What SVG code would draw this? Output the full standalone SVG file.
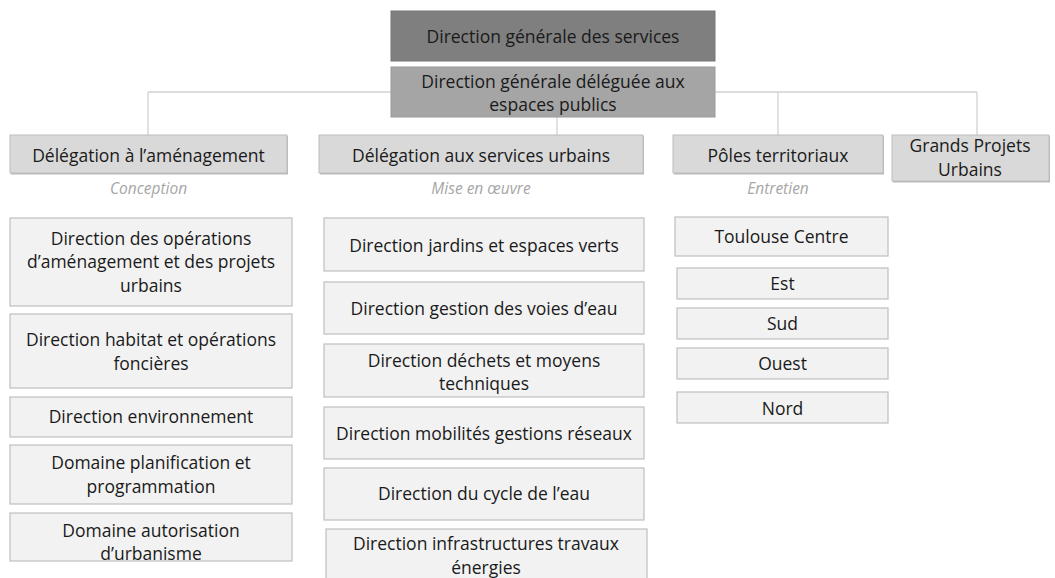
<svg xmlns="http://www.w3.org/2000/svg" width="1055" height="578" viewBox="0 0 1055 578">
<defs>
<style>
text{font-family:"Open Sans","Liberation Sans",sans-serif;font-size:17.5px;fill:#1a1a1a;text-anchor:middle}
.lbl{font-style:italic;fill:#a6a6a6;font-size:15.5px}
.top{fill:#7f7f7f;stroke:#767676}
.dga{fill:#a5a5a5;stroke:#9a9a9a}
.del{fill:#d9d9d9;stroke:#bdbdbd}
.sub{fill:#f2f2f2;stroke:#bfbfbf;stroke-width:1.2}
.sh{fill:#b8b8b8}
#connectors line{stroke:#d2d2d2;stroke-width:1.3}
</style>
</defs>
<rect width="1055" height="578" fill="#ffffff"/>
<g id="connectors">
<line x1="148" y1="92" x2="391" y2="92"/>
<line x1="148" y1="92" x2="148" y2="135"/>
<line x1="715" y1="92" x2="977" y2="92"/>
<line x1="778" y1="92" x2="778" y2="135"/>
<line x1="977" y1="92" x2="977" y2="135"/>
<line x1="557" y1="117" x2="557" y2="135"/>
</g>
<g id="dgs"><rect class="top" x="391" y="11" width="324" height="50"/><text x="553" y="42.5">Direction générale des services</text></g>
<g id="dga"><rect class="dga" x="391" y="67" width="324" height="50"/><text x="553" y="87.5">Direction générale déléguée aux</text><text x="553" y="110.5">espaces publics</text></g>
<g id="del-amenagement"><rect class="sh" x="11" y="136" width="277" height="38.5"/><rect class="del" x="10" y="135" width="277" height="38"/><text x="148.5" y="162">Délégation à l’aménagement</text></g>
<g id="del-services"><rect class="sh" x="320" y="136" width="324" height="38.5"/><rect class="del" x="319" y="135" width="324" height="38"/><text x="481" y="162">Délégation aux services urbains</text></g>
<g id="poles"><rect class="sh" x="674" y="136" width="210" height="38.5"/><rect class="del" x="673" y="135" width="210" height="38"/><text x="778" y="162">Pôles territoriaux</text></g>
<g id="gpu"><rect class="sh" x="893" y="136" width="157" height="46.5"/><rect class="del" x="892" y="135" width="157" height="46"/><text x="970" y="152">Grands Projets</text><text x="970" y="175.5">Urbains</text></g>
<g id="lbl-conception"><text class="lbl" x="148.5" y="194">Conception</text></g>
<g id="lbl-mise"><text class="lbl" x="481" y="194">Mise en œuvre</text></g>
<g id="lbl-entretien"><text class="lbl" x="778" y="194">Entretien</text></g>
<g id="l1"><rect class="sub" x="10" y="218" width="282" height="88"/><text x="151" y="244.5">Direction des opérations</text><text x="151" y="268">d’aménagement et des projets</text><text x="151" y="292">urbains</text></g>
<g id="l2"><rect class="sub" x="10" y="314" width="282" height="74"/><text x="151" y="346">Direction habitat et opérations</text><text x="151" y="370">foncières</text></g>
<g id="l3"><rect class="sub" x="10" y="397" width="282" height="40"/><text x="151" y="423">Direction environnement</text></g>
<g id="l4"><rect class="sub" x="10" y="445" width="282" height="59"/><text x="151" y="469">Domaine planification et</text><text x="151" y="493">programmation</text></g>
<g id="l5"><rect class="sub" x="10" y="513" width="282" height="48"/><text x="151" y="536.5">Domaine autorisation</text><text x="151" y="560">d’urbanisme</text></g>
<g id="m1"><rect class="sub" x="324" y="218" width="320" height="53"/><text x="484" y="251.5">Direction jardins et espaces verts</text></g>
<g id="m2"><rect class="sub" x="324" y="282" width="320" height="52"/><text x="484" y="315">Direction gestion des voies d’eau</text></g>
<g id="m3"><rect class="sub" x="324" y="344" width="320" height="53"/><text x="484" y="366.5">Direction déchets et moyens</text><text x="484" y="390">techniques</text></g>
<g id="m4"><rect class="sub" x="324" y="407" width="320" height="52"/><text x="484" y="440">Direction mobilités gestions réseaux</text></g>
<g id="m5"><rect class="sub" x="324" y="468" width="320" height="52"/><text x="484" y="500">Direction du cycle de l’eau</text></g>
<g id="m6"><rect class="sub" x="326" y="529" width="321" height="55"/><text x="486" y="550">Direction infrastructures travaux</text><text x="486" y="573.5">énergies</text></g>
<g id="r1"><rect class="sub" x="675" y="217" width="213" height="39"/><text x="781.5" y="243">Toulouse Centre</text></g>
<g id="r2"><rect class="sub" x="677" y="268" width="211" height="31"/><text x="782.5" y="290">Est</text></g>
<g id="r3"><rect class="sub" x="677" y="308" width="211" height="31"/><text x="782.5" y="330">Sud</text></g>
<g id="r4"><rect class="sub" x="677" y="348" width="211" height="31"/><text x="782.5" y="370">Ouest</text></g>
<g id="r5"><rect class="sub" x="677" y="392" width="211" height="31"/><text x="782.5" y="414.5">Nord</text></g>
</svg>
